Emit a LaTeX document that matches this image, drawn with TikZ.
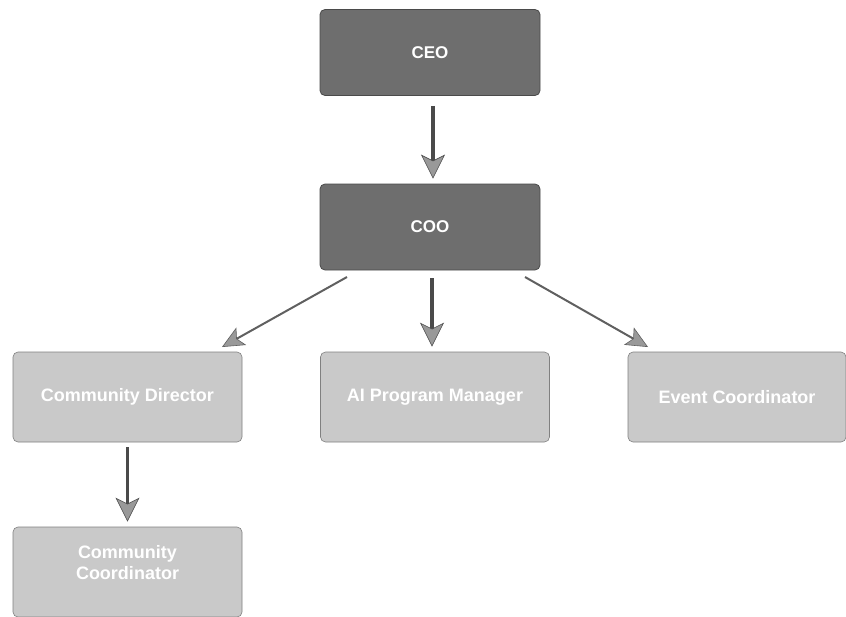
\documentclass[tikz,border=0pt]{standalone}
\usepackage{fontspec}
\setmainfont{Liberation Sans}
\usetikzlibrary{arrows.meta}
\definecolor{darkbox}{HTML}{6E6E6E}
\definecolor{lightbox}{HTML}{C9C9C9}
\definecolor{edge}{HTML}{4A4A4A}
\tikzset{
  topbox/.style={draw=edge, line width=0.8pt, fill=darkbox, rounded corners=5pt,
    minimum width=220pt, minimum height=86pt, text=white, font=\fontsize{17}{20}\selectfont\bfseries, align=center},
  subbox/.style={draw=edge!70, line width=0.6pt, fill=lightbox, rounded corners=5pt,
    minimum width=229pt, minimum height=90pt, text=white, font=\fontsize{18}{21}\selectfont\bfseries, align=center},
  vlink/.style={draw=edge, line width=3.5pt, -{Stealth[length=24pt, width=24pt, inset=6pt, fill=gray!80, line width=0.6pt]}},
  dlink/.style={draw=gray!75!black, line width=2pt, -{Stealth[length=22pt, width=20pt, inset=5pt, fill=gray!80, line width=0.6pt]}}
}
\begin{document}
\begin{tikzpicture}[x=1pt,y=-1pt]
\useasboundingbox (0,0) rectangle (846,616);
\node[topbox] (ceo) at (430,52.5) {CEO};
\node[topbox] (coo) at (430,227) {COO};
\node[subbox] (cd) at (127.5,397) {Community Director};
\node[subbox] (ai) at (435,397) {AI Program Manager};
\node[subbox, minimum width=218pt] (ec) at (737,397) {Event Coordinator};
\node[subbox] (cc) at (127.5,572) {Community\\Coordinator\\[-8pt]\strut};
\coordinate (coo-l) at (347,277);
\coordinate (coo-r) at (525,277);
\coordinate (cd-t) at (222,347);
\coordinate (ec-t) at (648,347);
\draw[vlink] ([xshift=3pt,yshift=-10pt]ceo.south) -- ([xshift=3pt,yshift=5pt]coo.north);
\draw[vlink] ([xshift=2pt,yshift=-8pt]coo.south) -- ([xshift=-3pt,yshift=5pt]ai.north);
\draw[dlink] (coo-l) -- (cd-t);
\draw[dlink] (coo-r) -- (ec-t);
\draw[vlink] ([yshift=-5pt]cd.south) -- ([yshift=5pt]cc.north);
\end{tikzpicture}
\end{document}
